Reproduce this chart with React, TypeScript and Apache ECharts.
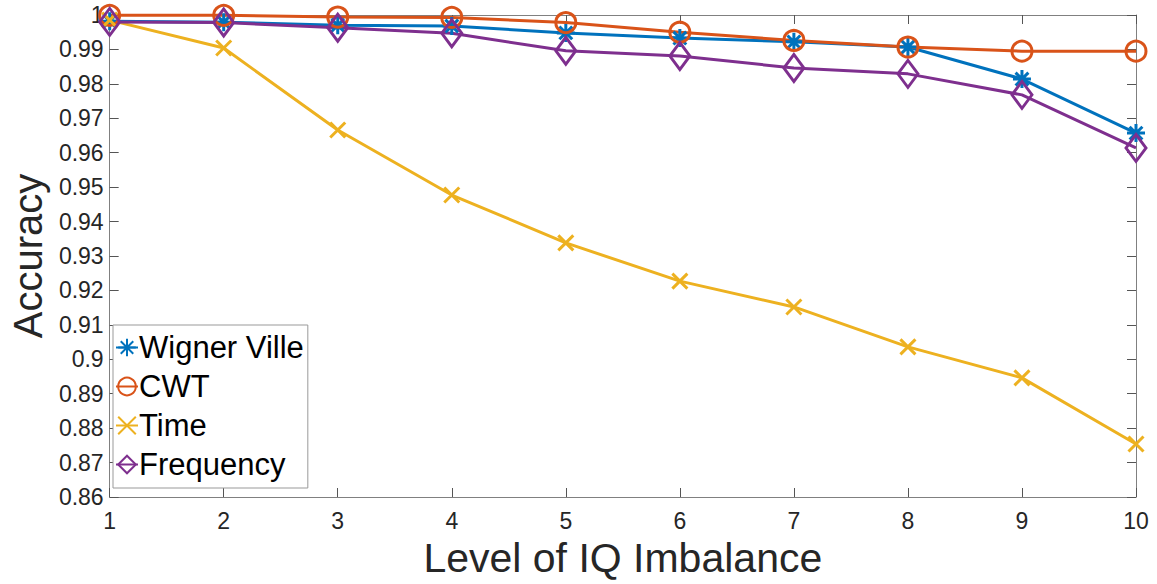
import React, { useEffect, useRef } from "react";
import * as echarts from "echarts";

const levels = [1, 2, 3, 4, 5, 6, 7, 8, 9, 10];
const wignerVille = [0.9982, 0.9979, 0.997, 0.9968, 0.9948, 0.9933, 0.9922, 0.9907, 0.9814, 0.9657];
const cwt = [0.9999, 0.9999, 0.9994, 0.9993, 0.9978, 0.995, 0.9926, 0.9907, 0.9895, 0.9895];
const timeSeries = [0.9985, 0.9904, 0.9666, 0.9477, 0.9338, 0.9227, 0.9152, 0.9036, 0.8946, 0.8754];
const frequency = [0.998, 0.9978, 0.9963, 0.9947, 0.9896, 0.9881, 0.9846, 0.9829, 0.9768, 0.9614];

const seriesNames = ["Wigner Ville", "CWT", "Time", "Frequency"];
const colors = ["#0072BD", "#D95319", "#EDB120", "#7E2F8E"];

const FONT = "'Liberation Sans', Arial, Helvetica, sans-serif";

const asterisk = "path://M9,0L9,18M0,9L18,9M2.6,2.6L15.4,15.4M2.6,15.4L15.4,2.6";
const cross = "path://M0,0L15,15M0,15L15,0";

export default function App() {
  const ref = useRef<HTMLDivElement>(null);
  useEffect(() => {
    if (!ref.current) return;
    const chart = echarts.init(ref.current, null, { renderer: "svg" });
    const pair = (vals: number[]) => levels.map((x, i) => [x, vals[i]]);
    const axisLine = { show: true, lineStyle: { color: "#808080", width: 1 } };
    const axisTick = { show: true, inside: true, length: 9, lineStyle: { color: "#555", width: 1 } };
    const mk = (idx: number, vals: number[], symbol: string, size: any) => ({
      name: seriesNames[idx],
      type: "line",
      data: pair(vals),
      symbol,
      symbolSize: size,
      showAllSymbol: true,
      clip: false,
      lineStyle: { color: colors[idx], width: 3 },
      itemStyle: { color: "rgba(0,0,0,0)", borderColor: colors[idx], borderWidth: 3 },
      emphasis: { disabled: true },
    });
    chart.setOption({
      animation: false,
      backgroundColor: "#fff",
      textStyle: { fontFamily: FONT },
      grid: { left: 104, right: 21, top: 15, bottom: 87, containLabel: false },
      legend: {
        orient: "vertical",
        left: 113,
        top: 325,
        backgroundColor: "#fff",
        borderColor: "#999",
        borderWidth: 1,
        borderRadius: 0,
        padding: [7, 4, 8, 2],
        itemGap: 8,
        itemWidth: 22,
        itemHeight: 22,
        data: seriesNames,
        textStyle: { fontSize: 31, color: "#000", fontFamily: FONT, padding: [0, 0, 0, -4] },
      },
      xAxis: [
        {
          type: "value",
          min: 1,
          max: 10,
          interval: 1,
          name: "Level of IQ Imbalance",
          nameLocation: "middle",
          nameGap: 40,
          nameTextStyle: { fontSize: 41, color: "#262626", fontFamily: FONT },
          axisLine,
          axisTick,
          splitLine: { show: false },
          axisLabel: { fontSize: 23, color: "#262626", margin: 12, fontFamily: FONT },
        },
        {
          type: "value",
          position: "top",
          min: 1,
          max: 10,
          interval: 1,
          axisLine,
          axisTick,
          splitLine: { show: false },
          axisLabel: { show: false },
        },
      ],
      yAxis: [
        {
          type: "value",
          min: 0.86,
          max: 1,
          interval: 0.01,
          name: "Accuracy",
          nameLocation: "middle",
          nameGap: 60,
          nameTextStyle: { fontSize: 40, color: "#262626", fontFamily: FONT },
          axisLine,
          axisTick,
          splitLine: { show: false },
          axisLabel: {
            fontSize: 23,
            color: "#262626",
            margin: 6,
            fontFamily: FONT,
            formatter: (v: number) => String(+v.toFixed(2)),
          },
        },
        {
          type: "value",
          position: "right",
          min: 0.86,
          max: 1,
          interval: 0.01,
          axisLine,
          axisTick,
          splitLine: { show: false },
          axisLabel: { show: false },
        },
      ],
      series: [
        mk(0, wignerVille, asterisk, 18),
        mk(1, cwt, "circle", 20),
        mk(2, timeSeries, cross, 15),
        mk(3, frequency, "diamond", [20, 27]),
      ],
    });
    return () => chart.dispose();
  }, []);
  return (
    <div
      ref={ref}
      style={{ position: "fixed", left: 0, top: 0, width: 1157, height: 584, background: "#fff" }}
    />
  );
}
